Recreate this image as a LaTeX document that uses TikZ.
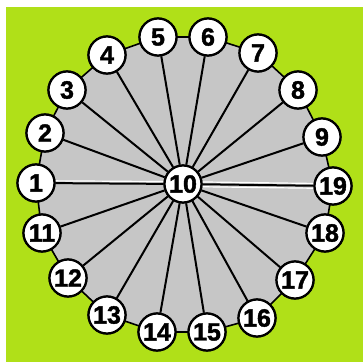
\documentclass[tikz,border=0pt]{standalone}
\usepackage{fontspec}
\setmainfont{Liberation Sans}
\newfontfamily\numfont[FakeBold=1.6]{Liberation Sans Bold}
\definecolor{bggreen}{RGB}{176,224,24}
\definecolor{wheelgray}{RGB}{198,198,198}
\tikzset{
  num/.style={circle, draw=black, line width=2.2pt, fill=white, minimum size=37pt, inner sep=0pt,
    font=\fontsize{25}{25}\selectfont\numfont},
  spoke/.style={draw=black, line width=2pt},
  rim/.style={draw=black, line width=1.6pt, fill=wheelgray},
  glint/.style={draw=white, line width=1.2pt}
}
\begin{document}
\begin{tikzpicture}[x=1pt,y=-1pt]
\useasboundingbox (0,0) rectangle (363,363);
\fill[white] (0,0) rectangle (363,363);
\fill[bggreen] (6,7) rectangle (363,362);
% coordinates of node centres
\coordinate (p1) at (36,183);
\coordinate (p2) at (45,133);
\coordinate (p3) at (67,90);
\coordinate (p4) at (107,55);
\coordinate (p5) at (158,37);
\coordinate (p6) at (208,37);
\coordinate (p7) at (258,53);
\coordinate (p8) at (298,90);
\coordinate (p9) at (322,137);
\coordinate (p19) at (333,186);
\coordinate (p18) at (325,233);
\coordinate (p17) at (295,280);
\coordinate (p16) at (257,318);
\coordinate (p15) at (207,332);
\coordinate (p14) at (157,332);
\coordinate (p13) at (107,315);
\coordinate (p12) at (68,278);
\coordinate (p11) at (42,233);
\coordinate (p10) at (183,184);
% wheel
\path[rim] (p1) -- (p2) -- (p3) -- (p4) -- (p5) -- (p6) -- (p7) -- (p8) -- (p9) -- (p19)
  -- (p18) -- (p17) -- (p16) -- (p15) -- (p14) -- (p13) -- (p12) -- (p11) -- cycle;
% nodes
\foreach \i in {1,...,19} {
  \node[num] (n\i) at (p\i) {\i};
}
% spokes
\foreach \i in {1,...,9,11,12,13,14,15,16,17,18,19} {
  \draw[spoke] (n10) -- (n\i);
}
\draw[glint, transform canvas={yshift=2.3pt}] (n10) -- (n1);
\draw[glint, transform canvas={yshift=2.3pt}] (n10) -- (n19);
\draw[glint, transform canvas={yshift=-2.5pt}] (n10) -- (n19);
% redraw nodes on top
\foreach \i in {1,...,19} {
  \node[num] at (p\i) {\i};
}
\end{tikzpicture}
\end{document}
